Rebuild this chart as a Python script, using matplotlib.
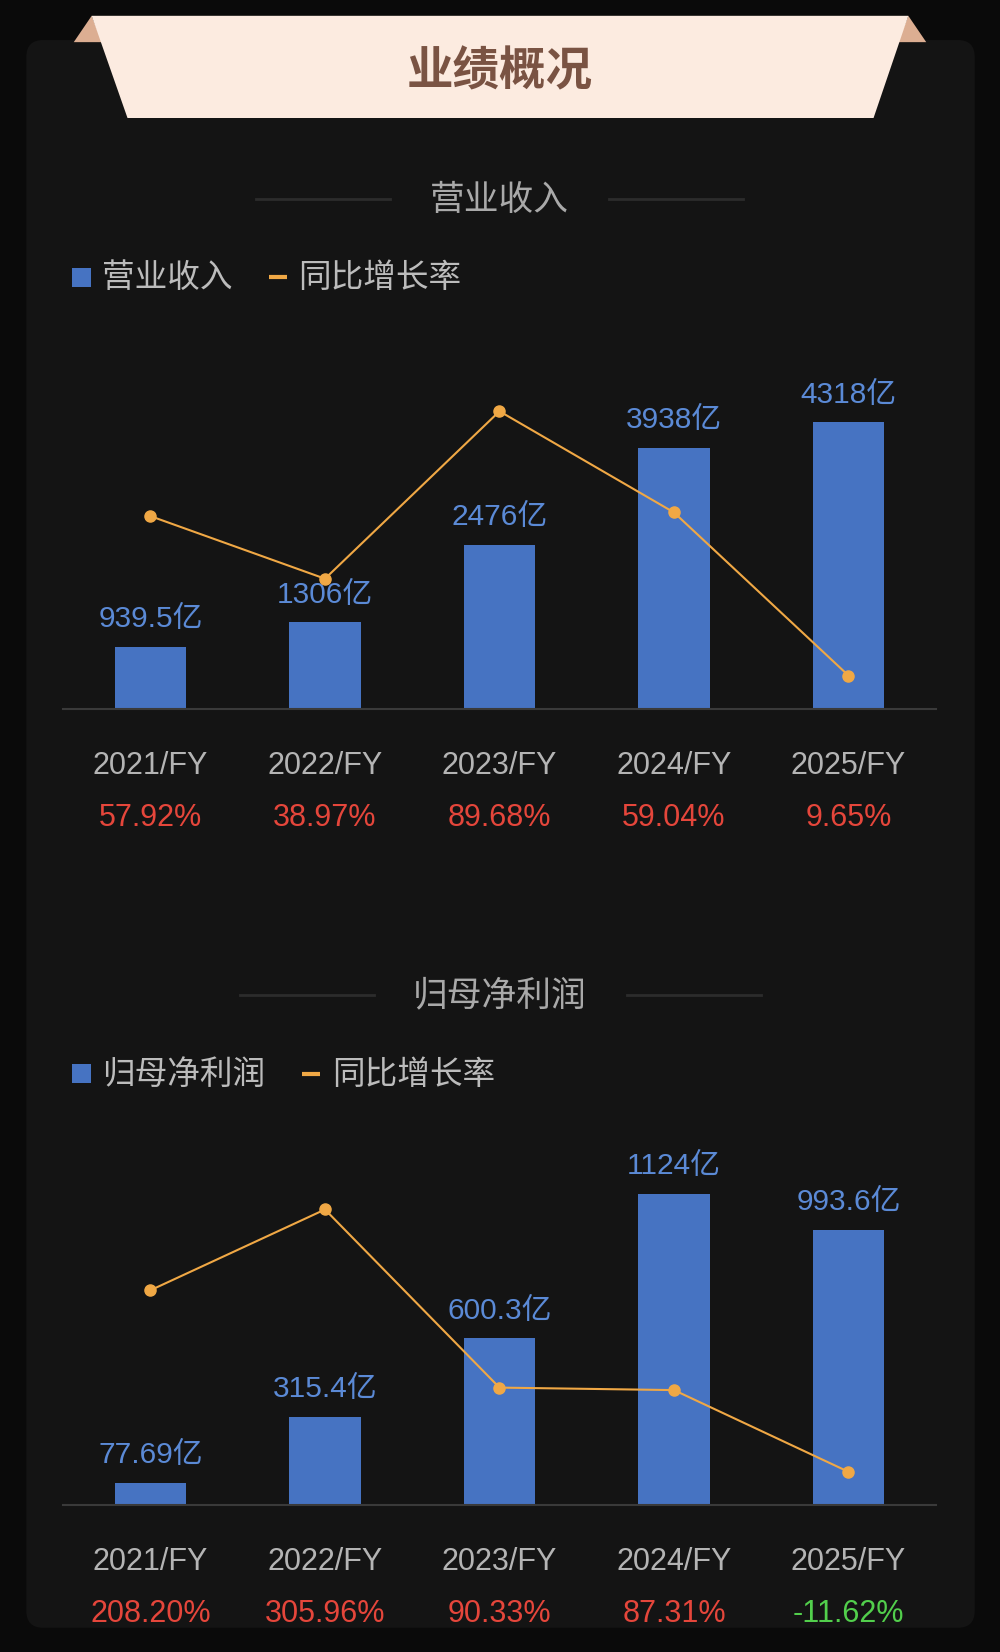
import matplotlib
matplotlib.use("Agg")
import matplotlib.pyplot as plt
from matplotlib.patches import FancyBboxPatch, Polygon, Rectangle
from matplotlib import transforms

# data
years = ["2021/FY", "2022/FY", "2023/FY", "2024/FY", "2025/FY"]
revenue = [939.5, 1306, 2476, 3938, 4318]
revenue_labels = ["939.5亿", "1306亿", "2476亿", "3938亿", "4318亿"]
revenue_yoy = [57.92, 38.97, 89.68, 59.04, 9.65]
profit = [77.69, 315.4, 600.3, 1124, 993.6]
profit_labels = ["77.69亿", "315.4亿", "600.3亿", "1124亿", "993.6亿"]
profit_yoy = [208.20, 305.96, 90.33, 87.31, -11.62]

CJK = "Noto Sans CJK SC"
NUM = ["Liberation Sans", "Noto Sans CJK SC"]
plt.rcParams["font.family"] = [CJK, "DejaVu Sans"]

BAR = "#4673c2"
LINE = "#f0a845"
VAL = "#5b8ad6"
GREY = "#b4b4b4"
RED = "#e5463b"
GREEN = "#52cf4c"

# layout is worked out on a 949 x 1568 grid
W, H = 949, 1568
fig = plt.figure(figsize=(10, 16.52), dpi=100)
fig.patch.set_facecolor("#0a0a0a")

bg = fig.add_axes([0, 0, 1, 1])
bg.set_xlim(0, W)
bg.set_ylim(H, 0)
bg.axis("off")

# card
bg.add_patch(FancyBboxPatch((25, 38), 900, 1507, boxstyle="round,pad=0,rounding_size=16",
                            fc="#141414", ec="none"))
# banner with folded corners
bg.add_patch(Polygon([(70, 40), (87, 15), (97, 40)], fc="#dcae92", ec="none"))
bg.add_patch(Polygon([(879, 40), (862, 15), (852, 40)], fc="#dcae92", ec="none"))
bg.add_patch(Polygon([(87, 15), (862, 15), (829, 112), (121, 112)], fc="#fcebe0", ec="none"))
bg.text(474, 68, "业绩概况", ha="center", va="center", fontsize=33.5, fontweight="bold",
        color="#7a5343")


def panel(name, title_y, lines, leg_y, dash_x, bottom, vmax, lo, hi,
          values, labels, yoy, label_y, pct_y):
    # section title
    bg.text(474, title_y + 3, name, ha="center", va="center", fontsize=25, color="#a9a9a9")
    for x0, x1 in lines:
        bg.plot([x0, x1], [title_y + 2, title_y + 2], color="#2c2c2c", lw=2)
    # legend
    bg.add_patch(Rectangle((68, leg_y - 9), 18, 18, fc=BAR, ec="none"))
    bg.text(97, leg_y + 1, name, ha="left", va="center", fontsize=23.5, color="#bcbcbc")
    bg.plot([dash_x, dash_x + 17], [leg_y, leg_y], color=LINE, lw=3, solid_capstyle="butt")
    bg.text(dash_x + 28, leg_y + 1, "同比增长率", ha="left", va="center", fontsize=23.5,
            color="#bcbcbc")

    ax = fig.add_axes([60 / W, 1 - bottom / H, 828 / W, 315 / H])
    ax.set_facecolor("none")
    x = range(len(values))
    ax.bar(x, values, width=0.41, color=BAR, zorder=2)
    ax.set_xlim(-0.5, len(values) - 0.5)
    ax.set_ylim(0, vmax)
    for i, (v, t) in enumerate(zip(values, labels)):
        ax.annotate(t, (i, v), xytext=(0, 20), textcoords="offset points", ha="center",
                    va="center", fontsize=21.5, color=VAL, family=NUM)
    for s in ["top", "left", "right"]:
        ax.spines[s].set_visible(False)
    ax.spines["bottom"].set_color("#3a3a3a")
    ax.spines["bottom"].set_linewidth(1.5)
    ax.set_xticks([])
    ax.set_yticks([])

    ax2 = ax.twinx()
    ax2.set_facecolor("none")
    ax2.plot(x, yoy, color=LINE, lw=1.5, marker="o", ms=8, zorder=3, clip_on=False)
    ax2.set_ylim(lo, hi)
    ax2.axis("off")

    tr = transforms.blended_transform_factory(ax.transData, bg.transData)
    for i, (yr, p) in enumerate(zip(years, yoy)):
        bg.text(i, label_y + 3, yr, transform=tr, ha="center", va="center", fontsize=22,
                color=GREY, family=NUM)
        bg.text(i, pct_y + 3, f"{p:.2f}%", transform=tr, ha="center", va="center", fontsize=22,
                color=RED if p >= 0 else GREEN, family=NUM)


panel("营业收入", 187, [(243, 370), (578, 705)], 263, 255, 673, 5000, -0.5, 100,
      revenue, revenue_labels, revenue_yoy, 724, 773)
panel("归母净利润", 942, [(228, 355), (595, 722)], 1019, 287, 1428, 1200, -51.2, 350.6,
      profit, profit_labels, profit_yoy, 1480, 1529)

fig.savefig("out.png", dpi=100, facecolor=fig.get_facecolor())
